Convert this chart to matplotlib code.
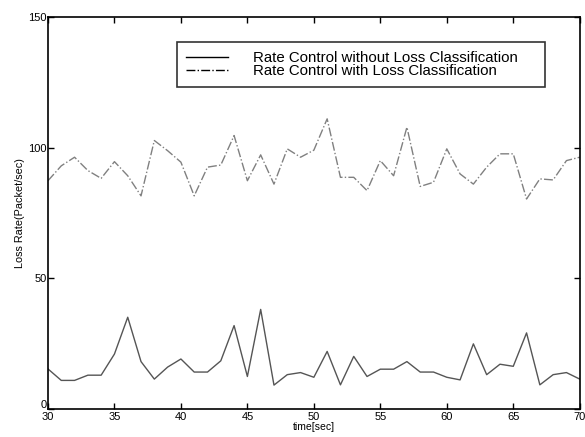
import numpy as np
import matplotlib
matplotlib.use("Agg")
import matplotlib.pyplot as plt
from matplotlib.transforms import ScaledTranslation

plt.rcParams['font.family'] = ['Liberation Sans', 'DejaVu Sans']

time_sec = np.arange(30, 71)
loss_without = [15.2, 10.8, 10.8, 12.8, 12.8, 20.9, 35.0, 18.0, 11.3, 15.9,
                19.0, 14.0, 14.0, 18.3, 31.8, 12.3, 38.0, 9.0, 13.0, 13.8,
                12.0, 21.9, 9.1, 20.0, 12.3, 15.1, 15.1, 18.0, 14.0, 14.0,
                12.0, 11.0, 24.8, 13.0, 17.0, 16.2, 29.0, 9.1, 13.0, 13.8,
                11.3]
loss_with = [87.3, 93.0, 96.3, 91.2, 88.2, 94.6, 89.2, 81.5, 102.7, 98.8,
             94.4, 81.5, 92.5, 93.3, 104.6, 87.3, 97.2, 86.0, 99.5, 96.3,
             99.0, 111.0, 88.6, 88.6, 83.5, 95.0, 89.2, 107.8, 85.1, 86.7,
             99.5, 89.9, 86.0, 92.5, 97.6, 97.6, 80.3, 88.0, 87.6, 95.0,
             96.3]

fig = plt.figure(figsize=(5.85, 4.37), dpi=100)
ax = fig.add_axes([0.082, 0.065, 0.909, 0.896])

ax.plot(time_sec, loss_without, '-', color='#555555', lw=1.0)
ax.plot(time_sec, loss_with, '-.', color='#808080', lw=1.0)

ax.set_xlim(30, 70)
ax.set_ylim(0, 150)
ax.set_xticks(np.arange(30, 71, 5))
ax.set_yticks([0, 50, 100, 150])
ax.tick_params(direction='in', top=True, right=True, labelsize=8,
               length=4, width=1, pad=1)
ax.tick_params(axis='x', pad=2.5)
for s in ax.spines.values():
    s.set_linewidth(1.2)

# nudge the "0" up a bit so it doesn't sit on top of the "30"
lbl0 = ax.get_yticklabels()[0]
lbl0.set_transform(lbl0.get_transform() + ScaledTranslation(0, 3 / 72, fig.dpi_scale_trans))

ax.set_xlabel('time[sec]', fontsize=7.5, labelpad=0)
ax.set_ylabel('Loss Rate(Packet/sec)', fontsize=7.8, labelpad=2)

# legend handles in black, like the original
h1, = ax.plot([], [], '-', color='black', lw=1.0)
h2, = ax.plot([], [], '-.', color='black', lw=1.0)
leg = ax.legend([h1, h2], ['Rate Control without Loss Classification',
                           'Rate Control with Loss Classification'],
                loc='upper left', bbox_to_anchor=(0.2425, 0.5, 0.6917, 0.436),
                mode='expand',
                frameon=True, fancybox=False, edgecolor='black',
                fontsize=10.8, handlelength=2.8, handletextpad=1.7,
                borderpad=0.6, labelspacing=-0.05, borderaxespad=0)
leg.get_frame().set_linewidth(1.2)

fig.savefig('out.png', dpi=100)
